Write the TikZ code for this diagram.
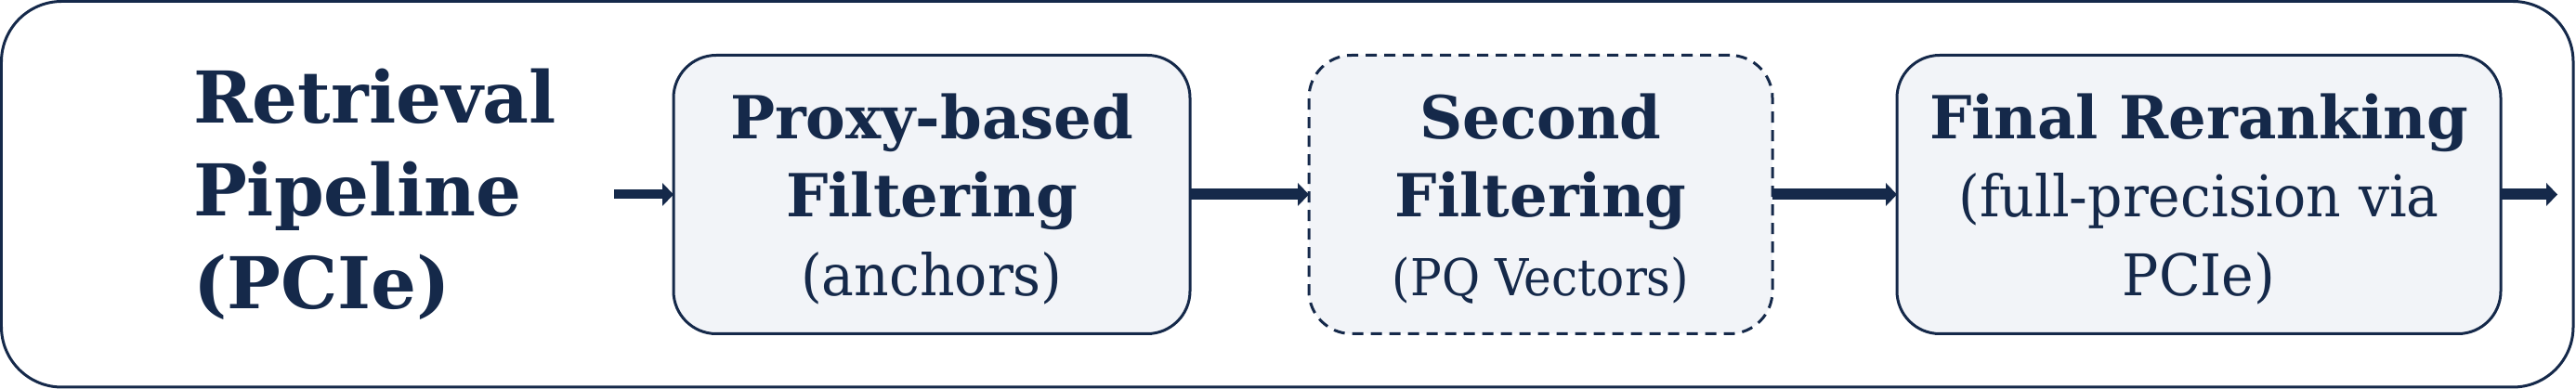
\documentclass[tikz,border=0pt]{standalone}
\usepackage{fontspec}
\setmainfont{DejaVu Serif}
\newfontfamily\notefont{DejaVu Serif}[FakeStretch=0.945]
\newfontfamily\smallnotefont{DejaVu Serif}[FakeStretch=0.915]
\usetikzlibrary{arrows.meta, positioning}
\definecolor{navy}{HTML}{15294A}
\definecolor{paleblue}{HTML}{F2F4F8}
\tikzstyle{stage} = [rectangle, rounded corners=4.6mm, line width=0.3mm, draw=navy, fill=paleblue, text=navy, minimum height=30mm, align=center, inner sep=0pt, outer sep=0pt, text depth=0pt, font=\fontsize{18.2}{24}\selectfont\bfseries]
\tikzstyle{dashedstage} = [stage, dash pattern=on 1.2mm off 0.8mm]
\tikzstyle{title} = [text=navy, text width=45.3mm, align=left, inner sep=0pt, outer sep=0pt, font=\fontsize{21.9}{28.5}\selectfont\bfseries]
\tikzstyle{frame} = [rounded corners=6.5mm, line width=0.3mm, draw=navy]
\tikzstyle{arrow} = [line width=1.2mm, draw=navy, -{Triangle[length=1.2mm, width=2.5mm, line width=0pt]}]
\newcommand{\stagenote}{\notefont\fontsize{17.6}{22.8}\selectfont\mdseries}
\newcommand{\stagesmall}{\smallnotefont\fontsize{15.6}{20}\selectfont\mdseries}

\begin{document}
\begin{tikzpicture}
		\useasboundingbox (0,0) rectangle (277.3mm,41.9mm);
		\draw [frame] (0.15mm,0.2mm) rectangle (277mm,41.75mm);
		
		\node (Proxy) [stage, minimum width=55.6mm] at (100.3mm,20.95mm) {Proxy-based\\Filtering\\{\stagenote (anchors)}};
		\node (Title) [title, left = 6.4mm of Proxy] {Retrieval Pipeline (PCIe)};
		\node (Second) [dashedstage, minimum width=49.9mm, right = 12.8mm of Proxy] {Second\\Filtering\\{\stagesmall (PQ Vectors)}};
		\node (Final) [stage, minimum width=65mm, right = 13.4mm of Second] {Final Reranking\\{\stagenote (full-precision via}\\{\stagenote PCIe)}};
		\coordinate [right = 6.1mm of Final] (Out);
		
		\draw [arrow, line width=1mm] (Title) -- (Proxy);
		\draw [arrow] (Proxy) -- (Second);
		\draw [arrow] (Second) -- (Final);
		\draw [arrow] (Final) -- (Out);
		\end{tikzpicture}
\end{document}
